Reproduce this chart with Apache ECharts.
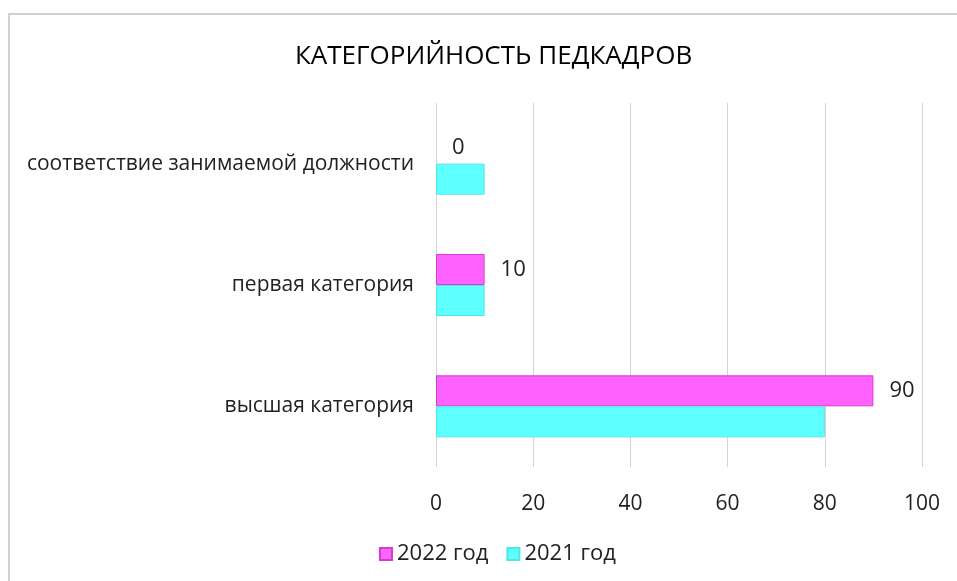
<!DOCTYPE html>
<html>
<head>
<meta charset="utf-8">
<script src="https://cdn.jsdelivr.net/npm/echarts@6/dist/echarts.min.js"></script>
<style>
  html, body { margin: 0; padding: 0; background: #fff; }
  #chart { width: 957px; height: 581px; }
</style>
</head>
<body>
<div id="chart"></div>
<script>
// данные диаграммы
var categories = ['высшая категория', 'первая категория', 'соответствие занимаемой должности'];
var values2022 = [90, 10, 0];
var values2021 = [80, 10, 10];
var xTicks = [0, 20, 40, 60, 80, 100];

var font = 'Open Sans';

// нулевой столбик без обводки
function toItems(arr, border) {
    return arr.map(function (v) {
        return { value: v, itemStyle: { borderWidth: v > 0 ? 1 : 0, borderColor: border } };
    });
}

var chart = echarts.init(document.getElementById('chart'));
chart.setOption({
    animation: false,
    textStyle: { fontFamily: font },
    graphic: [{
        type: 'rect',
        shape: { x: 9, y: 14, width: 1000, height: 600 },
        style: { fill: 'none', stroke: '#d0d0d0', lineWidth: 2 },
        silent: true
    }],
    title: {
        text: 'КАТЕГОРИЙНОСТЬ ПЕДКАДРОВ',
        left: 290,
        top: 39,
        textStyle: { fontFamily: font, fontSize: 26, fontWeight: 'normal', color: '#000' }
    },
    legend: {
        data: ['2022 год', '2021 год'],
        bottom: 11,
        left: 374,
        itemWidth: 12,
        itemHeight: 12,
        itemGap: 18,
        icon: 'rect',
        textStyle: { fontFamily: font, fontSize: 22, color: '#222' }
    },
    grid: { left: 436, right: 35, top: 103, bottom: 114 },
    xAxis: {
        type: 'value',
        min: xTicks[0],
        max: xTicks[xTicks.length - 1],
        interval: 20,
        axisLine: { show: false },
        axisTick: { show: false },
        splitLine: { lineStyle: { color: '#d4d4d4', width: 1 } },
        axisLabel: { fontFamily: font, fontSize: 21, color: '#222', margin: 27 }
    },
    yAxis: {
        type: 'category',
        data: categories,
        axisLine: { show: false },
        axisTick: { show: false },
        axisLabel: { fontFamily: font, fontSize: 21, color: '#222', margin: 22 }
    },
    series: [
        {
            name: '2022 год',
            type: 'bar',
            data: toItems(values2022, '#d23cd2'),
            barWidth: 31,
            barGap: '0%',
            itemStyle: { color: '#ff62ff', borderColor: '#d23cd2', borderWidth: 1 },
            label: {
                show: true,
                position: 'right',
                distance: 16,
                fontFamily: font,
                fontSize: 22,
                color: '#222'
            }
        },
        {
            name: '2021 год',
            type: 'bar',
            data: toItems(values2021, '#4fe6e6'),
            barWidth: 31,
            barGap: '0%',
            itemStyle: { color: '#5effff', borderColor: '#4fe6e6', borderWidth: 1 }
        }
    ]
});
</script>
</body>
</html>
